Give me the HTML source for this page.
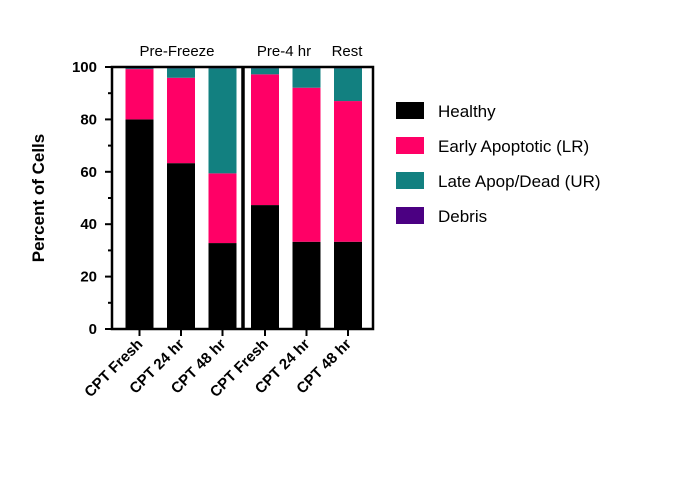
<!DOCTYPE html>
<html><head><meta charset="utf-8"><style>
body{margin:0;background:#fff}
svg text{font-family:"Liberation Sans",Arial,sans-serif}
</style></head><body>
<svg width="676" height="486" viewBox="0 0 676 486" id="chart">
<g id="bars"></g>
<g id="axes"></g>
<text x="44" y="198" transform="rotate(-90 44 198)" text-anchor="middle" font-size="17" font-weight="bold">Percent of  Cells</text>
<text x="177" y="56" text-anchor="middle" font-size="15">Pre-Freeze</text>
<text x="284" y="56" text-anchor="middle" font-size="15">Pre-4 hr</text>
<text x="347" y="56" text-anchor="middle" font-size="15">Rest</text>
<g id="legend"></g>
</svg>
<script>
const categories=["CPT Fresh","CPT 24 hr","CPT 48 hr","CPT Fresh","CPT 24 hr","CPT 48 hr"];
const healthy=[80,63.3,32.8,47.3,33.3,33.3];
const early=[19.2,32.6,26.6,49.9,58.8,53.7];
const late=[0.3,3.6,40.1,2.3,7.4,12.5];
const debris=[0.5,0.5,0.5,0.5,0.5,0.5];
const yTicks=[0,20,40,60,80,100];
const seriesNames=["Healthy","Early Apoptotic (LR)","Late Apop/Dead (UR)","Debris"];
const colors=["#000000","#ff0066","#128080","#4b0082"];
const NS="http://www.w3.org/2000/svg";
const x0=112,x1=373,yTop=67,yBot=329;
const y=v=>yBot-(v/100)*(yBot-yTop);
const xc=i=>139.5+i*41.5+(i>=3?1:0);
function mk(tag,attrs,parent){const e=document.createElementNS(NS,tag);for(const k in attrs)e.setAttribute(k,attrs[k]);parent.appendChild(e);return e;}
const bars=document.getElementById('bars');
const series=[healthy,early,late,debris];
categories.forEach((c,i)=>{let base=0;series.forEach((s,j)=>{
 const r=mk('rect',{x:xc(i)-14,y:y(base+s[i]),width:28,height:y(base)-y(base+s[i]),fill:colors[j]},bars);
 
 
 base+=s[i];});});
const ax=document.getElementById('axes');
mk('rect',{x:x0,y:yTop,width:x1-x0,height:yBot-yTop,fill:'none',stroke:'#000','stroke-width':2.5},ax);
mk('line',{x1:243,y1:yTop,x2:243,y2:yBot,stroke:'#000','stroke-width':3.5},ax);
for(let v=0;v<=100;v+=10){const maj=v%20===0;mk('line',{x1:x0-(maj?7:4),y1:y(v),x2:x0,y2:y(v),stroke:'#000','stroke-width':2},ax);}
yTicks.forEach(v=>{const t=mk('text',{x:97,y:y(v)+5,'text-anchor':'end','font-size':15,'font-weight':'bold'},ax);t.textContent=v;
 
 });
categories.forEach((c,i)=>{mk('line',{x1:xc(i),y1:yBot,x2:xc(i),y2:yBot+7,stroke:'#000','stroke-width':2},ax);
 const t=mk('text',{x:xc(i)+4,y:yBot+16,'text-anchor':'end','font-size':15,'font-weight':'bold',transform:`rotate(-45 ${xc(i)+4} ${yBot+16})`},ax);t.textContent=c;
 
 });
const lg=document.getElementById('legend');
seriesNames.forEach((n,j)=>{const yy=102+j*35;
 const r=mk('rect',{x:396,y:yy,width:28,height:17,fill:colors[j]},lg);
 
 
 const t=mk('text',{x:438,y:yy+15,'font-size':17},lg);t.textContent=n;
 
 });
</script>
</body></html>
